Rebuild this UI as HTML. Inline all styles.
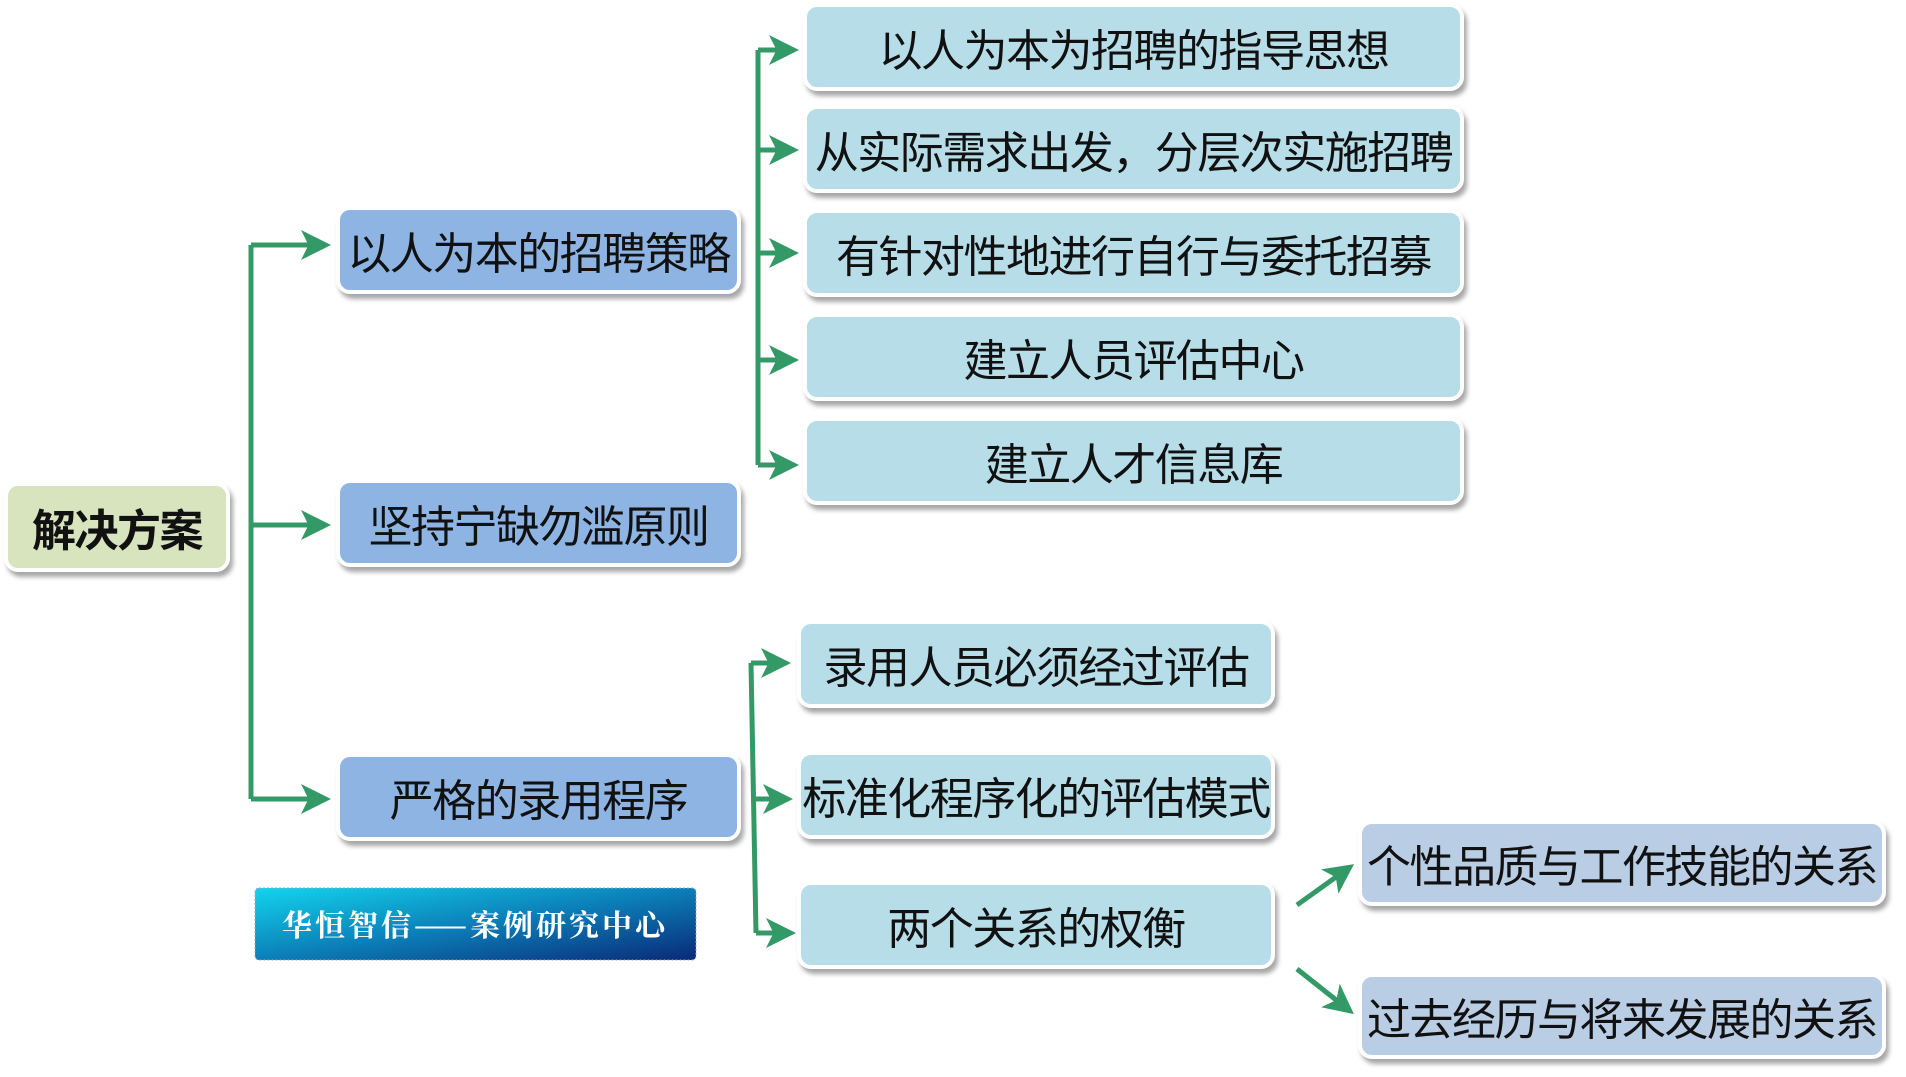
<!DOCTYPE html>
<html><head><meta charset="utf-8"><style>
body{margin:0;background:#fff;width:1906px;height:1077px;overflow:hidden;position:relative;font-family:"Liberation Sans","Noto Sans CJK SC",sans-serif}
#w0{position:absolute;left:-4px;top:-5px;width:1906px;height:1077px}
.b{position:absolute;box-sizing:border-box;border:4px solid #fff;border-radius:14px;box-shadow:3px 5px 5px rgba(0,0,0,.35);display:flex;align-items:center;justify-content:center;font-size:44px;color:#111;white-space:nowrap;letter-spacing:-1.5px}
.l1{background:#8eb4e3}
.up{background:#b7dde8}
.rt{background:#b9cde5}
svg{position:absolute;left:0;top:0}
</style></head><body><div id="w0">
<svg width="1906" height="1077">
<defs><marker id="a" markerWidth="6" markerHeight="6" refX="5" refY="3" orient="auto" markerUnits="strokeWidth"><path d="M0,0 L6,3 L0,6 L1.5,3z" fill="#339966"/></marker></defs>
<g stroke="#339966" stroke-width="5" fill="none">
<path d="M255,250 V804"/>
<path d="M255,250 H330" marker-end="url(#a)"/>
<path d="M255,530 H330" marker-end="url(#a)"/>
<path d="M255,804 H330" marker-end="url(#a)"/>
<path d="M762,55 V470"/>
<path d="M762,55 H798" marker-end="url(#a)"/>
<path d="M762,155 H798" marker-end="url(#a)"/>
<path d="M762,258 H798" marker-end="url(#a)"/>
<path d="M762,365 H798" marker-end="url(#a)"/>
<path d="M762,470 H798" marker-end="url(#a)"/>
<path d="M755,668 L760,938"/>
<path d="M755,668 H790" marker-end="url(#a)"/>
<path d="M757,804 H792" marker-end="url(#a)"/>
<path d="M760,938 H795" marker-end="url(#a)"/>
<path d="M1301,910 L1354,872" marker-end="url(#a)"/>
<path d="M1301,974 L1354,1016" marker-end="url(#a)"/>
</g>
<defs><linearGradient id="w" x1="0" y1="0" x2="1" y2="1"><stop offset="0" stop-color="#13d4ee"/><stop offset="0.5" stop-color="#0b7fb8"/><stop offset="1" stop-color="#0a2a78"/></linearGradient></defs>
<rect x="259" y="893" width="441" height="72" rx="4" fill="url(#w)" stroke="#9ab" stroke-dasharray="2,2"/>
<text x="479" y="941" text-anchor="middle" font-family="'Noto Serif CJK SC',serif" font-size="30" font-weight="bold" fill="#fff" letter-spacing="3">华恒智信——案例研究中心</text>
</svg>
<div class="b" style="left:8px;top:487px;width:226px;height:90px;background:#d7e4bd;font-weight:bold">解决方案</div>
<div class="b l1" style="left:340px;top:211px;width:405px;height:88px">以人为本的招聘策略</div>
<div class="b l1" style="left:340px;top:484px;width:405px;height:88px">坚持宁缺勿滥原则</div>
<div class="b l1" style="left:340px;top:758px;width:405px;height:88px">严格的录用程序</div>
<div class="b up" style="left:807px;top:8px;width:661px;height:88px">以人为本为招聘的指导思想</div>
<div class="b up" style="left:807px;top:110px;width:661px;height:88px">从实际需求出发，分层次实施招聘</div>
<div class="b up" style="left:807px;top:214px;width:661px;height:88px">有针对性地进行自行与委托招募</div>
<div class="b up" style="left:807px;top:318px;width:661px;height:88px">建立人员评估中心</div>
<div class="b up" style="left:807px;top:422px;width:661px;height:88px">建立人才信息库</div>
<div class="b up" style="left:801px;top:625px;width:478px;height:88px">录用人员必须经过评估</div>
<div class="b up" style="left:801px;top:756px;width:478px;height:88px">标准化程序化的评估模式</div>
<div class="b up" style="left:801px;top:886px;width:478px;height:88px">两个关系的权衡</div>
<div class="b rt" style="left:1362px;top:825px;width:528px;height:86px">个性品质与工作技能的关系</div>
<div class="b rt" style="left:1362px;top:978px;width:528px;height:86px">过去经历与将来发展的关系</div>
</div></body></html>
